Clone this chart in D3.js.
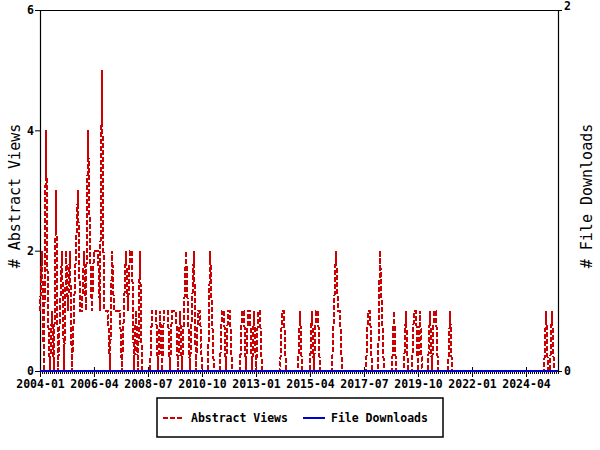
<!doctype html>
<html>
<head>
<meta charset="utf-8">
<script src="https://d3js.org/d3.v7.min.js"></script>
<style>
  body { margin: 0; background: #fff; }
  text { font-family: "DejaVu Sans Mono", monospace; }
  .tick text { font-size: 11.5px; font-weight: bold; fill: #000; }
</style>
</head>
<body>
<svg width="600" height="450"></svg>
<script>
// monthly points, 2004-01 .. 2025-08
var firstMonth = "2004-01",
    lastMonth = "2025-08";

// one row per year
var abstractViews = [
  1,2,0,4,1,0,1,0,3,0,1,2,
  0,2,1,2,0,1,2,3,1,1,2,1,
  4,2,1,2,2,2,1,5,1,1,1,0,
  2,1,1,1,1,0,1,2,1,2,2,0,
  1,0,2,0,0,0,0,0,1,1,1,0,
  1,0,1,1,1,0,1,1,1,0,1,0,
  1,2,1,0,1,2,0,1,1,0,0,0,
  0,2,1,0,0,0,0,1,1,0,1,1,
  0,0,0,0,0,1,1,0,1,1,0,1,
  0,1,1,0,0,0,0,0,0,0,0,0,
  0,1,1,0,0,0,0,0,0,0,1,0,
  0,0,0,0,1,0,1,1,0,0,0,0,
  0,0,0,1,2,1,1,0,0,0,0,0,
  0,0,0,0,0,0,0,0,1,1,0,0,
  0,0,2,1,0,0,0,0,0,1,0,0,
  0,0,0,1,0,0,0,1,1,0,1,0,
  0,0,0,1,0,1,1,0,0,0,0,0,
  0,1,0,0,0,0,0,0,0,0,0,0,
  0,0,0,0,0,0,0,0,0,0,0,0,
  0,0,0,0,0,0,0,0,0,0,0,0,
  0,0,0,0,0,0,0,0,0,0,0,0,
  0,1,0,0,1,0,0,0
];

var fileDownloads = [
  0,0,0,0,0,0,0,0,0,0,0,0,
  0,0,0,0,0,0,0,0,0,0,0,0,
  0,0,0,0,0,0,0,0,0,0,0,0,
  0,0,0,0,0,0,0,0,0,0,0,0,
  0,0,0,0,0,0,0,0,0,0,0,0,
  0,0,0,0,0,0,0,0,0,0,0,0,
  0,0,0,0,0,0,0,0,0,0,0,0,
  0,0,0,0,0,0,0,0,0,0,0,0,
  0,0,0,0,0,0,0,0,0,0,0,0,
  0,0,0,0,0,0,0,0,0,0,0,0,
  0,0,0,0,0,0,0,0,0,0,0,0,
  0,0,0,0,0,0,0,0,0,0,0,0,
  0,0,0,0,0,0,0,0,0,0,0,0,
  0,0,0,0,0,0,0,0,0,0,0,0,
  0,0,0,0,0,0,0,0,0,0,0,0,
  0,0,0,0,0,0,0,0,0,0,0,0,
  0,0,0,0,0,0,0,0,0,0,0,0,
  0,0,0,0,0,0,0,0,0,0,0,0,
  0,0,0,0,0,0,0,0,0,0,0,0,
  0,0,0,0,0,0,0,0,0,0,0,0,
  0,0,0,0,0,0,0,0,0,0,0,0,
  0,0,0,0,0,0,0,0
];

var xTickLabels = ["2004-01","2006-04","2008-07","2010-10","2013-01",
                   "2015-04","2017-07","2019-10","2022-01","2024-04"];
var leftTicks = [0, 2, 4, 6];
var rightTicks = [0, 2];

var parseMonth = d3.timeParse("%Y-%m");
var start = parseMonth(firstMonth), end = parseMonth(lastMonth);
var months = d3.timeMonth.range(start, d3.timeMonth.offset(end, 1));

var svg = d3.select("svg"),
    plot = { left: 40, right: 558, top: 10, bottom: 371 };

var x = d3.scaleTime().domain([start, end]).range([plot.left, plot.right]),
    yLeft = d3.scaleLinear().domain([0, 6]).range([plot.bottom, plot.top]),
    yRight = d3.scaleLinear().domain([0, 2]).range([plot.bottom, plot.top]);

// top border
svg.append("line")
   .attr("x1", plot.left).attr("x2", plot.right + 1)
   .attr("y1", plot.top + 0.5).attr("y2", plot.top + 0.5)
   .attr("stroke", "#000").attr("stroke-width", 1.2);

// minor month ticks under the x axis
svg.append("g")
   .attr("transform", "translate(0," + plot.bottom + ")")
   .call(d3.axisBottom(x).tickValues(months).tickSize(3).tickFormat("").tickSizeOuter(0))
   .call(function(g) { g.select(".domain").remove(); });

// major x ticks
var xAxis = svg.append("g")
   .attr("transform", "translate(0," + plot.bottom + ")")
   .call(d3.axisBottom(x)
     .tickValues(xTickLabels.map(parseMonth))
     .tickFormat(d3.timeFormat("%Y-%m"))
     .tickSize(6).tickPadding(3).tickSizeOuter(0));
xAxis.selectAll(".tick line").attr("y1", -4);

svg.append("g")
   .attr("transform", "translate(" + plot.left + ",0)")
   .call(d3.axisLeft(yLeft).tickValues(leftTicks).tickFormat(d3.format("d"))
     .tickSize(5).tickPadding(1).tickSizeOuter(0));

var rightAxis = svg.append("g")
   .attr("transform", "translate(" + plot.right + ",0)")
   .call(d3.axisRight(yRight).tickValues(rightTicks).tickFormat(d3.format("d"))
     .tickSize(4).tickPadding(2).tickSizeOuter(0));
rightAxis.selectAll(".tick text").filter(function(d) { return d === 2; }).attr("dy", "-0.05em");

svg.selectAll(".domain").attr("stroke-width", 1.2);

svg.append("text")
   .attr("transform", "translate(20,196) rotate(-90)")
   .attr("text-anchor", "middle")
   .style("font-size", "15px")
   .text("# Abstract Views");

svg.append("text")
   .attr("transform", "translate(592,196) rotate(-90)")
   .attr("text-anchor", "middle")
   .style("font-size", "15px")
   .text("# File Downloads");

var views = months.map(function(m, i) { return { date: m, value: abstractViews[i] }; });
var downloads = months.map(function(m, i) { return { date: m, value: fileDownloads[i] }; });

svg.append("path")
   .datum(views)
   .attr("fill", "none")
   .attr("stroke", "#cc0000")
   .attr("stroke-width", 2)
   .attr("stroke-dasharray", "5,2")
   .attr("shape-rendering", "crispEdges")
   .attr("d", d3.line().x(function(d) { return x(d.date); }).y(function(d) { return yLeft(d.value); }));

svg.append("path")
   .datum(downloads)
   .attr("fill", "none")
   .attr("stroke", "#0000cc")
   .attr("stroke-width", 2)
   .attr("d", d3.line().x(function(d) { return x(d.date); }).y(function(d) { return yRight(d.value); }));

// legend
var legend = svg.append("g");
legend.append("rect")
   .attr("x", 157).attr("y", 398).attr("width", 286).attr("height", 39)
   .attr("fill", "#fff").attr("stroke", "#000").attr("stroke-width", 1.5);
legend.append("line")
   .attr("x1", 163).attr("x2", 183).attr("y1", 418).attr("y2", 418)
   .attr("stroke", "#cc0000").attr("stroke-width", 2).attr("stroke-dasharray", "5,2");
legend.append("text")
   .attr("x", 191).attr("y", 422)
   .style("font-size", "11.5px").style("font-weight", "bold")
   .text("Abstract Views");
legend.append("line")
   .attr("x1", 303).attr("x2", 325).attr("y1", 418).attr("y2", 418)
   .attr("stroke", "#0000cc").attr("stroke-width", 2);
legend.append("text")
   .attr("x", 331).attr("y", 422)
   .style("font-size", "11.5px").style("font-weight", "bold")
   .text("File Downloads");
</script>
</body>
</html>
